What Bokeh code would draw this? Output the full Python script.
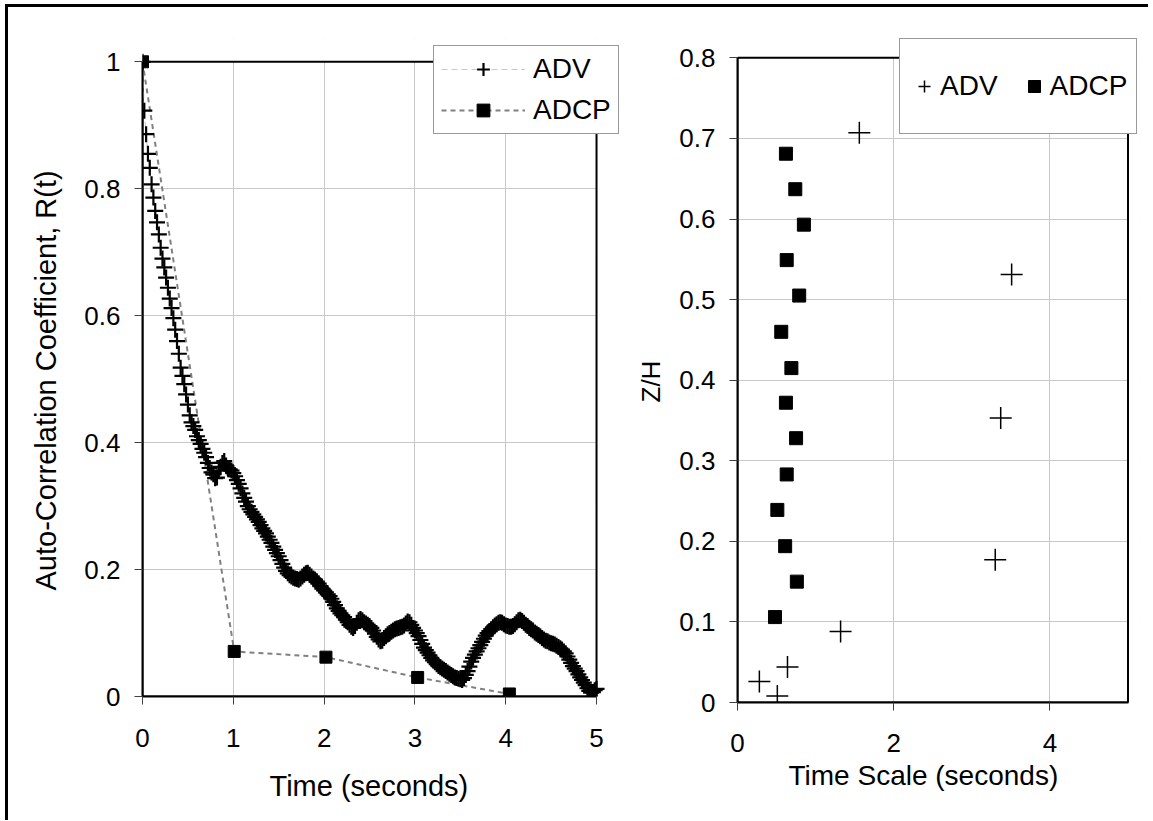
from bokeh.plotting import figure
from bokeh.layouts import row
from bokeh.models import (Legend, LegendItem, FixedTicker, Range1d,
                          NumeralTickFormatter, BoxAnnotation, Title)
from bokeh.embed import file_html
from bokeh.resources import INLINE

FONT = "Liberation Sans"

# ---------------- Left panel data: auto-correlation ----------------
adv_dt = 0.02  # sampling interval of the ADV record (s)
adv_r = [
    1.000, 0.923, 0.886, 0.855, 0.833, 0.807, 0.786, 0.765, 0.747, 0.728,
    0.707, 0.690, 0.676, 0.660, 0.644, 0.627, 0.612, 0.596, 0.578, 0.560,
    0.540, 0.518, 0.505, 0.492, 0.476, 0.460, 0.443, 0.432, 0.426, 0.420,
    0.410, 0.404, 0.398, 0.390, 0.384, 0.377, 0.368, 0.360, 0.353, 0.350,
    0.344, 0.345, 0.356, 0.362, 0.368, 0.371, 0.364, 0.360, 0.358, 0.356,
    0.352, 0.347, 0.341, 0.335, 0.328, 0.320, 0.313, 0.307, 0.300, 0.295,
    0.291, 0.287, 0.283, 0.279, 0.275, 0.270, 0.265, 0.261, 0.257, 0.252,
    0.247, 0.242, 0.236, 0.231, 0.226, 0.221, 0.215, 0.209, 0.203, 0.198,
    0.194, 0.191, 0.189, 0.187, 0.186, 0.185, 0.184, 0.186, 0.189, 0.192,
    0.194, 0.195, 0.192, 0.189, 0.186, 0.184, 0.181, 0.178, 0.174, 0.170,
    0.167, 0.164, 0.161, 0.158, 0.154, 0.149, 0.144, 0.139, 0.135, 0.131,
    0.128, 0.125, 0.121, 0.117, 0.113, 0.110, 0.108, 0.111, 0.116, 0.120,
    0.122, 0.120, 0.117, 0.115, 0.113, 0.111, 0.108, 0.104, 0.099, 0.094,
    0.090, 0.087, 0.088, 0.092, 0.095, 0.098, 0.100, 0.102, 0.104, 0.106,
    0.107, 0.108, 0.109, 0.110, 0.112, 0.115, 0.118, 0.117, 0.113, 0.108,
    0.104, 0.100, 0.095, 0.089, 0.083, 0.077, 0.073, 0.069, 0.065, 0.061,
    0.057, 0.054, 0.051, 0.048, 0.046, 0.044, 0.042, 0.040, 0.038, 0.036,
    0.034, 0.032, 0.030, 0.029, 0.028, 0.027, 0.026, 0.029, 0.034, 0.040,
    0.047, 0.055, 0.061, 0.066, 0.071, 0.076, 0.081, 0.086, 0.091, 0.096,
    0.100, 0.103, 0.106, 0.109, 0.112, 0.114, 0.116, 0.117, 0.116, 0.114,
    0.112, 0.111, 0.110, 0.110, 0.111, 0.114, 0.117, 0.120, 0.121, 0.119,
    0.116, 0.113, 0.111, 0.108, 0.106, 0.104, 0.101, 0.099, 0.097, 0.095,
    0.092, 0.090, 0.088, 0.087, 0.085, 0.084, 0.083, 0.082, 0.080, 0.078,
    0.076, 0.074, 0.071, 0.068, 0.063, 0.058, 0.053, 0.048, 0.044, 0.040,
    0.035, 0.030, 0.026, 0.022, 0.018, 0.013, 0.009, 0.006, 0.007, 0.010,
    0.012,
]
adv_t = [round(i * adv_dt, 2) for i in range(len(adv_r))]

adcp_t = [0.0, 1.01, 2.02, 3.03, 4.04]
adcp_r = [1.0, 0.071, 0.062, 0.030, 0.004]

left_xticks = [0, 1, 2, 3, 4, 5]
left_yticks = [0, 0.2, 0.4, 0.6, 0.8, 1.0]

# ---------------- Right panel data: time scale profile ----------------
adv_scale = [1.56, 3.51, 3.37, 3.30, 1.32, 0.64, 0.28, 0.51]
adv_zh = [0.707, 0.531, 0.353, 0.177, 0.088, 0.044, 0.026, 0.008]

adcp_scale = [0.62, 0.74, 0.85, 0.63, 0.79, 0.56, 0.69,
              0.62, 0.75, 0.63, 0.51, 0.61, 0.76, 0.48]
adcp_zh = [0.681, 0.637, 0.593, 0.549, 0.505, 0.460, 0.415,
           0.372, 0.328, 0.283, 0.239, 0.194, 0.150, 0.106]

right_xticks = [0, 2, 4]
right_yticks = [0, 0.1, 0.2, 0.3, 0.4, 0.5, 0.6, 0.7, 0.8]


def add_title(p, text, side, size, offset, standoff):
    p.add_layout(Title(text=text, align="left", offset=offset,
                       standoff=standoff, text_font=FONT,
                       text_font_size=size, text_font_style="normal",
                       text_color="black"), side)


def style(p, xticks, yticks, xmax, ymax, xl_standoff):
    p.xaxis.ticker = FixedTicker(ticks=xticks)
    p.yaxis.ticker = FixedTicker(ticks=yticks)
    for ax in (p.xaxis[0], p.yaxis[0]):
        ax.formatter = NumeralTickFormatter(format="0.[0]")
        ax.axis_line_color = "black"
        ax.axis_line_width = 2
        ax.major_tick_line_color = "#404040"
        ax.major_tick_line_width = 1
        ax.major_tick_in = 0
        ax.major_tick_out = 8
        ax.minor_tick_line_color = None
        ax.major_label_text_font = FONT
        ax.major_label_text_font_size = "26px"
        ax.major_label_text_color = "black"
    p.xaxis.bounds = (0, xmax)
    p.yaxis.bounds = (0, ymax)
    p.xaxis.major_label_standoff = xl_standoff
    p.yaxis.major_label_standoff = 14
    p.xgrid.grid_line_color = "#c8c8c8"
    p.ygrid.grid_line_color = "#c8c8c8"
    p.outline_line_color = None
    # blank the strips of the frame that lie outside the data box
    p.add_layout(BoxAnnotation(left=xmax, fill_color="white", fill_alpha=1.0,
                               line_color=None, level="underlay"))
    p.add_layout(BoxAnnotation(bottom=ymax, fill_color="white", fill_alpha=1.0,
                               line_color=None, level="underlay"))
    # outline of the data box
    p.add_layout(BoxAnnotation(left=0, right=xmax, bottom=0, top=ymax,
                               fill_alpha=0.0, line_color="black",
                               line_alpha=1.0, line_width=2,
                               level="underlay"))


# ---------------- Left figure ----------------
p1 = figure(frame_width=479, frame_height=658,
            min_border_left=134, min_border_top=31, min_border_right=0,
            min_border_bottom=118, title=None,
            x_range=Range1d(0, 5.275), y_range=Range1d(0, 1.0367),
            output_backend="svg", toolbar_location=None,
            background_fill_color="white", border_fill_color="white")
style(p1, left_xticks, left_yticks, 5, 1.0, 24)
add_title(p1, "Time (seconds)", "below", "29px", 127, 36)
add_title(p1, "Auto-Correlation Coefficient, R(t)", "left", "29px", 106, 39)

adcp_line = p1.line(adcp_t, adcp_r, line_color="#808080", line_width=2,
                    line_dash="5 4")
adcp_pts = p1.scatter(adcp_t, adcp_r, marker="square", size=12,
                      fill_color="black", line_color="black")
adv_line = p1.line(adv_t, adv_r, line_color="#c8c8c8", line_width=1,
                   line_dash="6 4")
adv_pts = p1.scatter(adv_t, adv_r, marker="cross", size=16,
                     line_color="black", line_width=2.2)

leg1 = Legend(items=[LegendItem(label="ADV", renderers=[adv_line, adv_pts]),
                     LegendItem(label="ADCP", renderers=[adcp_line, adcp_pts])],
              location=(291, 562), orientation="vertical",
              glyph_width=84, glyph_height=32, label_height=32,
              label_standoff=8, padding=7, spacing=9, margin=0,
              border_line_color="#333333", border_line_width=1,
              background_fill_color="white", background_fill_alpha=1.0,
              label_text_font=FONT, label_text_font_size="28px",
              label_text_color="black")
p1.add_layout(leg1)

# ---------------- Right figure ----------------
p2 = figure(frame_width=403, frame_height=664,
            min_border_left=116, min_border_top=31, min_border_right=8,
            min_border_bottom=118, title=None,
            x_range=Range1d(0, 5.16), y_range=Range1d(0, 0.824),
            output_backend="svg", toolbar_location=None,
            background_fill_color="white", border_fill_color="white")
style(p2, right_xticks, right_yticks, 5, 0.8, 23)
add_title(p2, "Time Scale (seconds)", "below", "28px", 51, 6)
add_title(p2, "Z/H", "left", "26px", 300, 22)

r_adv = p2.scatter(adv_scale, adv_zh, marker="cross", size=22,
                   line_color="black", line_width=1.5)
r_adcp = p2.scatter(adcp_scale, adcp_zh, marker="square", size=13,
                    fill_color="black", line_color="black")

leg2 = Legend(items=[LegendItem(label="ADV", renderers=[r_adv]),
                     LegendItem(label="ADCP", renderers=[r_adcp])],
              location=(162, 568), orientation="horizontal",
              glyph_width=30, glyph_height=76, label_height=76,
              label_standoff=1, padding=9, spacing=21, margin=0,
              border_line_color="#333333", border_line_width=1,
              background_fill_color="white", background_fill_alpha=1.0,
              label_text_font=FONT, label_text_font_size="28px",
              label_text_color="black")
p2.add_layout(leg2)

layout = row(p1, p2, margin=(4, 0, 0, 5),
             styles={"border-top": "3px solid black",
                     "border-left": "3px solid black"})

open("out.html", "w").write(file_html(layout, INLINE))
